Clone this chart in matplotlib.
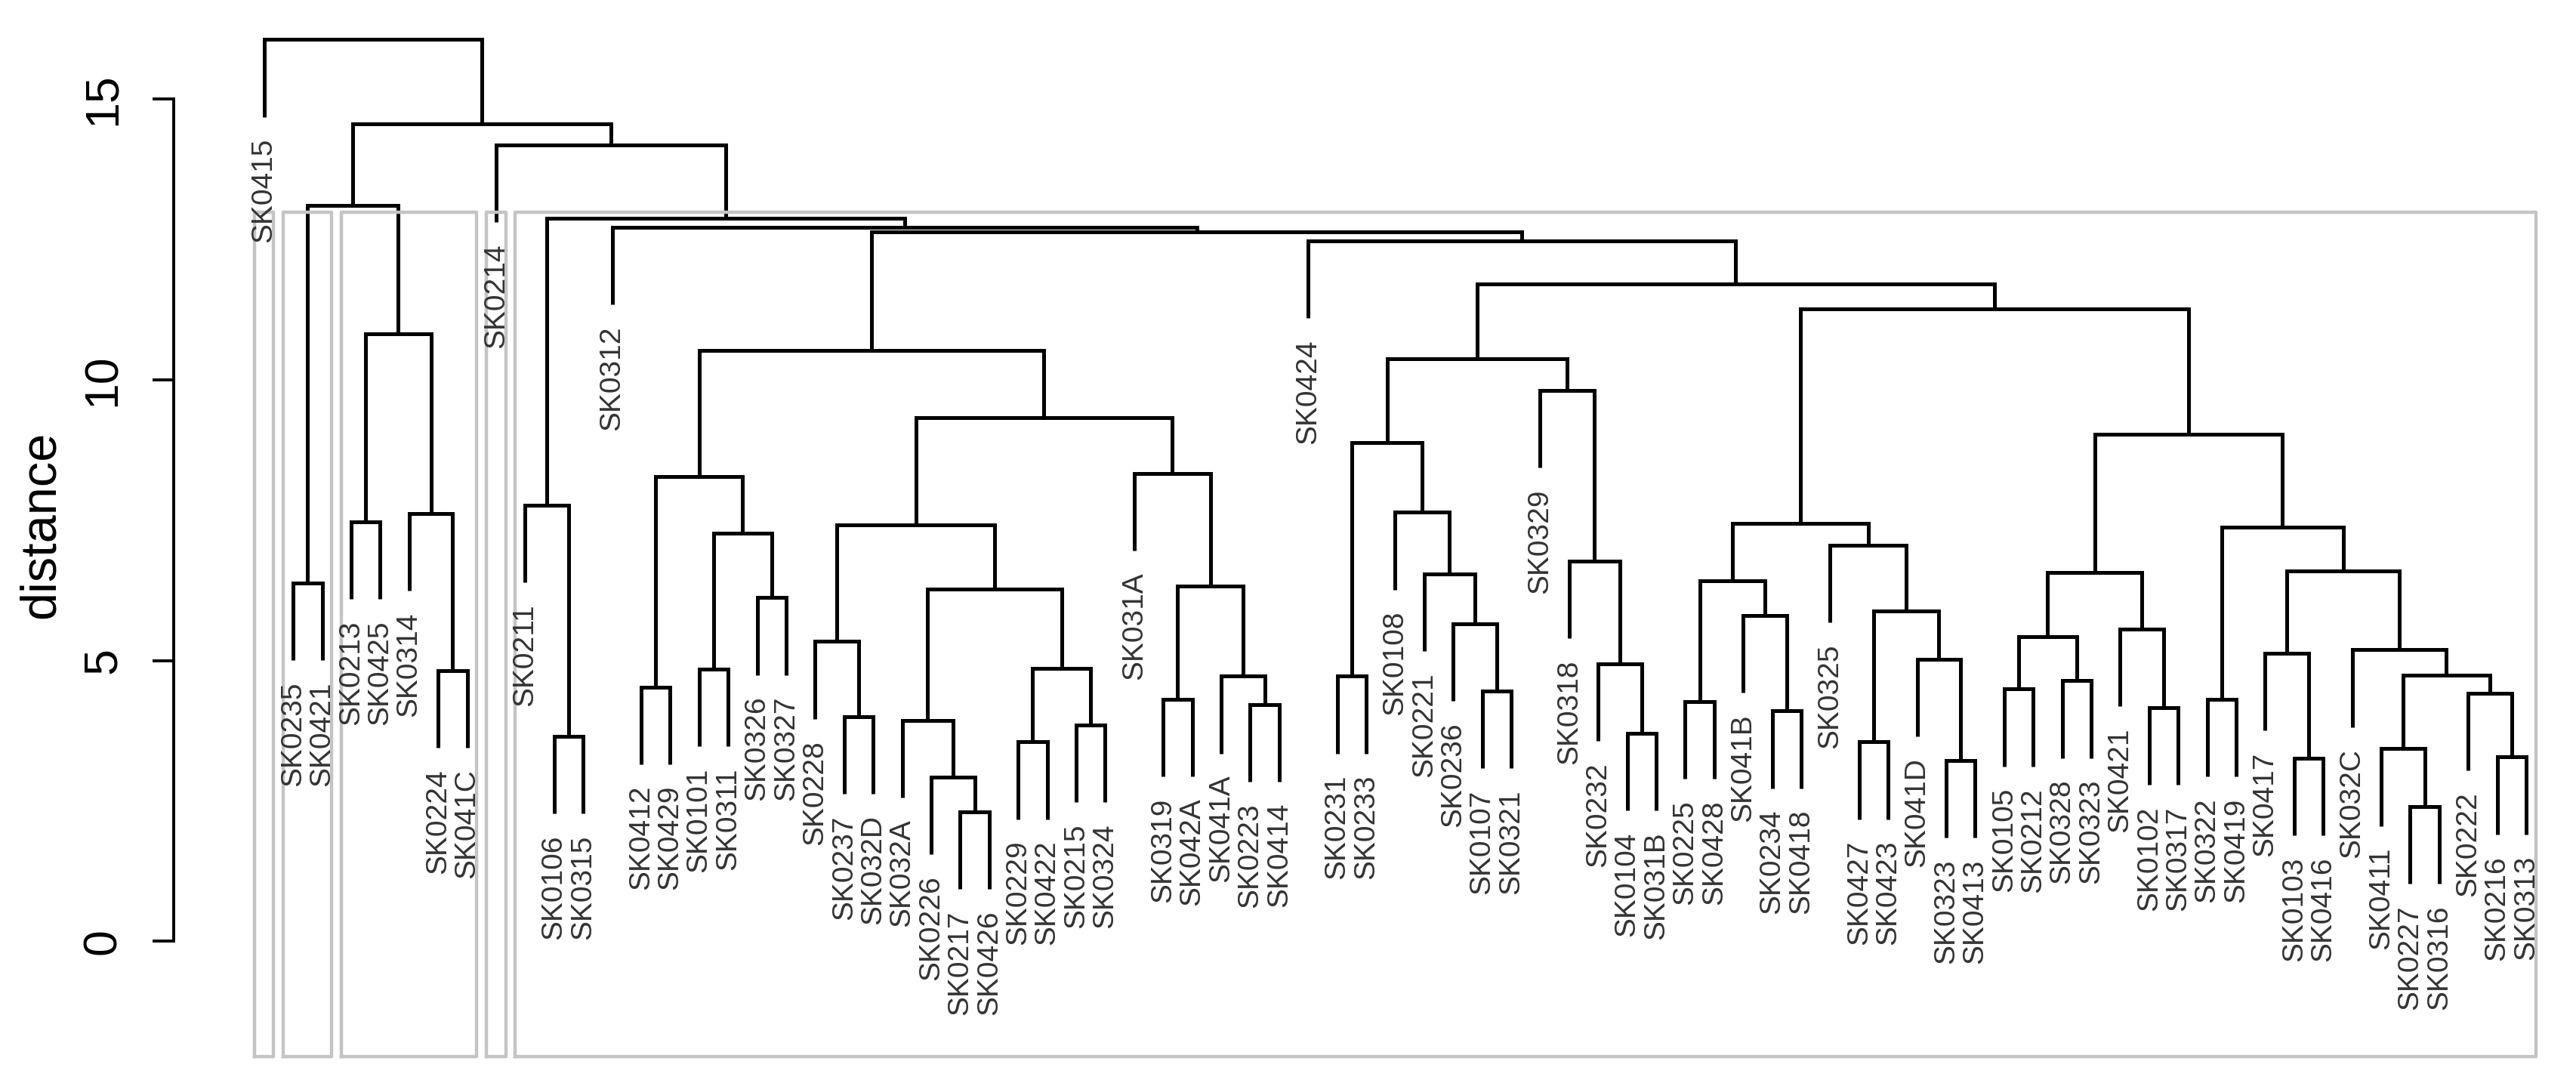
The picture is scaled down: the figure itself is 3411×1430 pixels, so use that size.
import matplotlib
matplotlib.use("Agg")
import matplotlib.pyplot as plt

plt.rcParams['font.family'] = ['Liberation Sans', 'DejaVu Sans']

# leaf labels, left to right
leaf_labels = [
    "SK0415", "SK0235", "SK0421", "SK0213", "SK0425", "SK0314", "SK0224", "SK041C",
    "SK0214", "SK0211", "SK0106", "SK0315", "SK0312", "SK0412", "SK0429", "SK0101",
    "SK0311", "SK0326", "SK0327", "SK0228", "SK0237", "SK032D", "SK032A", "SK0226",
    "SK0217", "SK0426", "SK0229", "SK0422", "SK0215", "SK0324", "SK031A", "SK0319",
    "SK042A", "SK041A", "SK0223", "SK0414", "SK0424", "SK0231", "SK0233", "SK0108",
    "SK0221", "SK0236", "SK0107", "SK0321", "SK0329", "SK0318", "SK0232", "SK0104",
    "SK031B", "SK0225", "SK0428", "SK041B", "SK0234", "SK0418", "SK0325", "SK0427",
    "SK0423", "SK041D", "SK0323", "SK0413", "SK0105", "SK0212", "SK0328", "SK0323",
    "SK0421", "SK0102", "SK0317", "SK0322", "SK0419", "SK0417", "SK0103", "SK0416",
    "SK032C", "SK0411", "SK0227", "SK0316", "SK0222", "SK0216", "SK0313",
]

# merge table, R style: negative = leaf number, positive = earlier merge row
merge_left = [
    -2, -4, -7, -6, 2, 1, -11, -10, -14, -16, -18, 10, 9, -21, -20, -25, -24, -23,
    -27, -29, 19, 18, 15, -32, -35, -34, 24, -31, 23, 13, -38, -43, -42, -41, -40,
    31, -48, -47, -46, -45, 36, -50, -53, -52, 42, -56, -59, -58, 46, -55, 45, -61,
    -63, 52, -66, -65, 54, -68, -71, -70, -75, -74, -78, -77, 62, -73, 60, 58, 57,
    51, 41, -37, 30, -13, 8, -9, 6, -1,
]
merge_right = [
    -3, -5, -8, 3, 4, 5, -12, 7, -15, -17, -19, 11, 12, -22, 14, -26, 16, 17,
    -28, -30, 20, 21, 22, -33, -36, 25, 26, 27, 28, 29, -39, -44, 32, 33, 34,
    35, -49, 37, 38, 39, 40, -51, -54, 43, 44, -57, -60, 47, 48, 49, 50, -62,
    -64, 53, -67, 55, 56, -69, -72, 59, -76, 61, -79, 63, 64, 65, 66, 67, 68,
    69, 70, 71, 72, 73, 74, 75, 76, 77,
]
merge_height = [
    6.38, 7.47, 4.82, 7.62, 10.82, 13.10, 3.65, 7.77, 4.53, 4.85, 6.12, 7.27, 8.28,
    4.00, 5.34, 2.31, 2.92, 3.93, 3.55, 3.85, 4.86, 6.27, 7.42, 4.31, 4.22, 4.72,
    6.33, 8.33, 9.32, 10.53, 4.72, 4.46, 5.65, 6.54, 7.64, 8.88, 3.70, 4.94, 6.77,
    9.81, 10.37, 4.27, 4.10, 5.80, 6.42, 3.55, 3.22, 5.02, 5.88, 7.05, 7.44, 4.49,
    4.64, 5.42, 4.16, 5.56, 6.57, 4.31, 3.26, 5.13, 2.40, 3.43, 3.28, 4.42, 4.74,
    5.19, 6.59, 7.38, 9.03, 11.26, 11.71, 12.48, 12.64, 12.72, 12.88, 14.18, 14.56,
    16.06,
]

n_clusters = 5
hang = 0.1 * (max(merge_height) - min(merge_height))

# x position of every merge = mean of its two children (as R's plot.hclust)
node_x = []
for a, b in zip(merge_left, merge_right):
    xa = -a if a < 0 else node_x[a - 1]
    xb = -b if b < 0 else node_x[b - 1]
    node_x.append((xa + xb) / 2)

fig = plt.figure(figsize=(34.11, 14.30), dpi=100)
ax = fig.add_axes([0.0674, 0.0214, 0.9484, 0.9752])
n = len(leaf_labels)
ax.set_xlim(1 - 0.04 * (n - 1), n + 0.04 * (n - 1))
ax.set_ylim(-2.06, 16.7)

# branches
for i, (a, b) in enumerate(zip(merge_left, merge_right)):
    h = merge_height[i]
    pts = []
    for c in (a, b):
        if c < 0:
            pts.append((-c, h - hang))
        else:
            pts.append((node_x[c - 1], merge_height[c - 1]))
    (x1, y1), (x2, y2) = pts
    ax.plot([x1, x1, x2, x2], [y1, h, h, y2], color='black', lw=3.6,
            solid_joinstyle='miter', solid_capstyle='butt')

# leaf labels hang below the leaf ends
leaf_end = {}
for i, (a, b) in enumerate(zip(merge_left, merge_right)):
    for c in (a, b):
        if c < 0:
            leaf_end[-c] = merge_height[i] - hang
for k, lab in enumerate(leaf_labels, start=1):
    ax.text(k, leaf_end[k] - 0.38, lab, rotation=90, ha='center', va='top',
            fontsize=28, color='#333333')

# rect.hclust style boxes for k clusters
children = {i + 1: (merge_left[i], merge_right[i]) for i in range(len(merge_left))}
groups = [len(merge_left)]
for _ in range(n_clusters - 1):
    top = max((g for g in groups if g > 0), key=lambda g: merge_height[g - 1])
    groups.remove(top)
    groups.extend(children[top])

def leaves_of(g):
    if g < 0:
        return [-g]
    a, b = children[g]
    return leaves_of(a) + leaves_of(b)

hs = sorted(merge_height, reverse=True)
box_top = (hs[n_clusters - 2] + hs[n_clusters - 1]) / 2
for g in groups:
    lv = leaves_of(g)
    x0, x1 = min(lv) - 0.34, max(lv) + 0.33
    ax.plot([x0, x0, x1, x1, x0], [-2.06, box_top, box_top, -2.06, -2.06],
            color='#c4c4c4', lw=3.2, clip_on=False)

for s in ('top', 'right', 'bottom'):
    ax.spines[s].set_visible(False)
ax.spines['left'].set_bounds(0, 15)
ax.spines['left'].set_linewidth(2.8)
ax.set_xticks([])
ax.set_yticks([0, 5, 10, 15])
ax.tick_params(axis='y', length=20, width=2.8, pad=26, labelsize=45, labelrotation=90)
for t in ax.get_yticklabels():
    t.set_va('center')

fig.text(55 / 3411, 0.514, 'distance', rotation=90, ha='center', va='center', fontsize=48)

fig.savefig('out.png', dpi=100)
